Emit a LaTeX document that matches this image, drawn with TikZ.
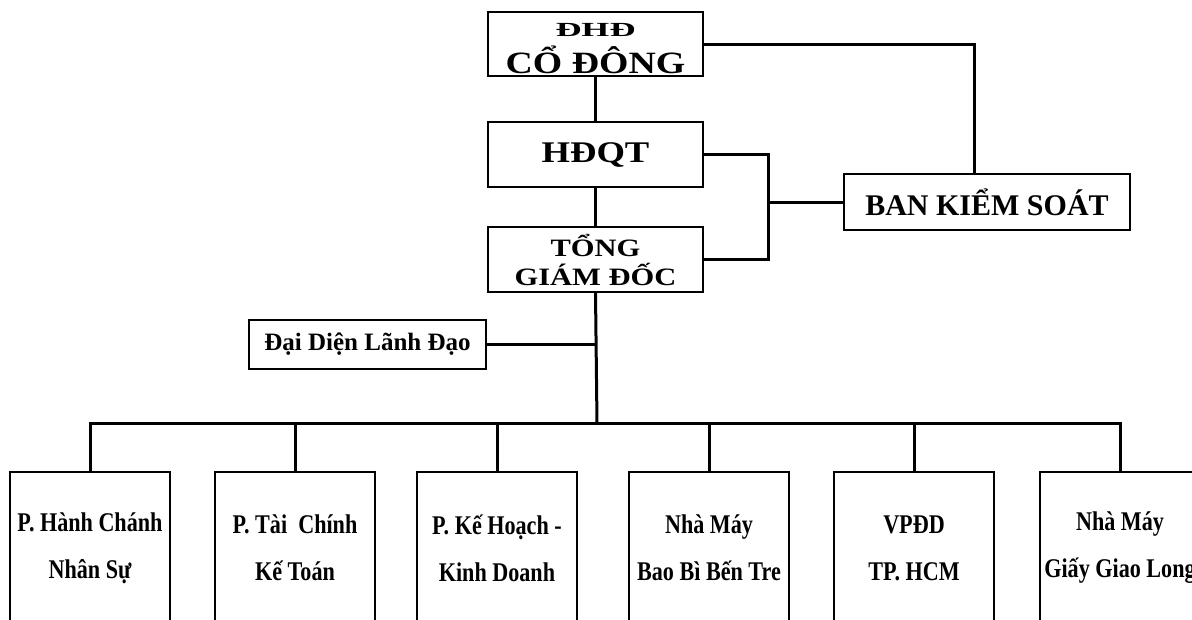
\documentclass[tikz,border=0pt]{standalone}
\usepackage{fontspec}
\setmainfont{Liberation Serif}
\newfontfamily\wideFont[FakeStretch=1.22]{Liberation Serif}
\newfontfamily\xwideFont[FakeStretch=1.8]{Liberation Serif}
\newfontfamily\narrowFont[FakeStretch=0.82]{Liberation Serif}
\usetikzlibrary{positioning}

\begin{document}
\begin{tikzpicture}[x=1pt,y=-1pt,
    box/.style={draw,line width=1.8pt,inner sep=0pt,align=center,font=\bfseries},
    unit/.style={box,minimum width=160pt,minimum height=152pt,
      font=\narrowFont\bfseries\fontsize{27}{47}\selectfont},
    link/.style={line width=3pt}]
    \clip (0,0) rectangle (1192,619);
    % upper boxes
    \node[box,minimum width=215pt,minimum height=64pt,
      font=\wideFont\bfseries\fontsize{31}{33}\selectfont] (dhd) at (595.5,44)
      {{\xwideFont\bfseries\fontsize{20}{20}\selectfont\rule{0pt}{22pt}ĐHĐ}\\[4pt]CỔ ĐÔNG};
    \node[box,minimum width=215pt,minimum height=65pt,
      font=\wideFont\bfseries\fontsize{30}{30}\selectfont] (hdqt) at (595.5,154.5) {HĐQT};
    \node[box,minimum width=215pt,minimum height=65pt,
      font=\wideFont\bfseries\fontsize{25}{29}\selectfont] (tgd) at (595.5,259.5) {TỔNG\\GIÁM ĐỐC};
    \node[box,minimum width=286pt,minimum height=56pt,
      font=\bfseries\fontsize{30}{30}\selectfont] (bks) at (987,202) {BAN KIỂM SOÁT};
    \node[box,minimum width=237pt,minimum height=49pt,
      font=\bfseries\fontsize{25}{25}\selectfont] (ddld) at (367.5,344.5) {Đại Diện Lãnh Đạo};
    % lower boxes
    \foreach \x/\name/\txt in {90/hc/{P. Hành Chánh\\Nhân Sự},
        295/tc/{P. Tài\ \ Chính\\Kế Toán},
        497/kh/{P. Kế Hoạch -\\Kinh Doanh},
        709/bb/{Nhà Máy\\Bao Bì Bến Tre},
        914/vp/{VPĐD\\TP. HCM},
        1120/gl/{Nhà Máy\\Giấy Giao Long}} {
       \node[unit] (\name) at (\x,548) {\txt};
     }
    \coordinate (jn) at (768,202);
    \coordinate (bus) at (597,423);
    \draw[link] (dhd.south) -- (hdqt.north);
    \draw[link] (hdqt.south) -- (tgd.north);
    \draw[link] (dhd.east) -| ([xshift=-13pt]bks.north);
    \draw[link] (hdqt.east) -| (jn) |- (tgd.east);
    \draw[link] (jn) -- (bks.west);
    \draw[link] (tgd.south) -- (bus);
    \draw[link] (ddld.east) -- (ddld.east -| tgd.south);
    \draw[link] (hc.north) |- (bus -| gl.north) -- (gl.north);
    \foreach \name in {tc,kh,bb,vp} {
       \draw[link] (\name.north) -- (\name.north |- bus);
     }
\end{tikzpicture}
\end{document}
